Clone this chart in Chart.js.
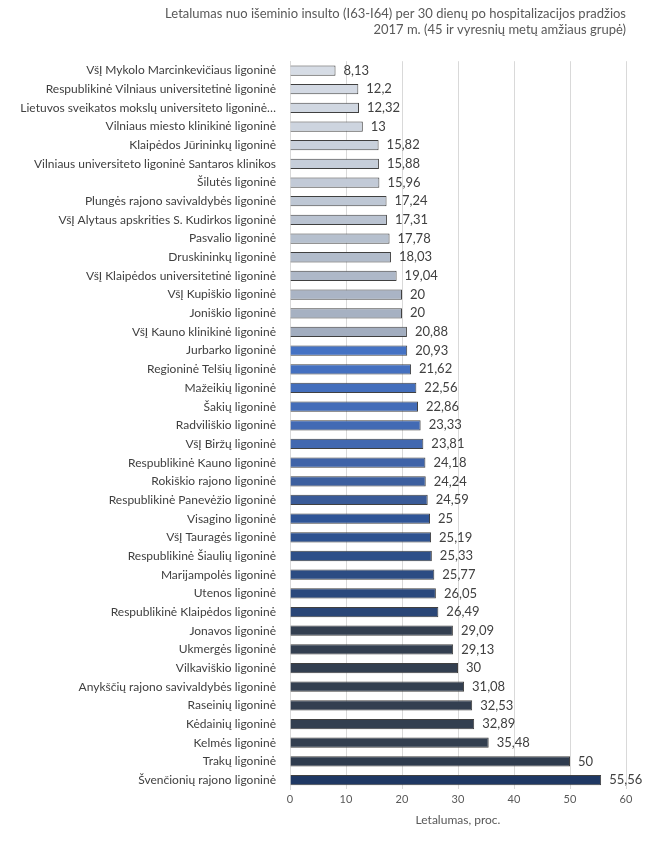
<!DOCTYPE html>
<html><head><meta charset="utf-8">
<script src="https://cdn.jsdelivr.net/npm/chart.js@4/dist/chart.umd.min.js"></script>
<style>body{margin:0;background:#fff}#wrap{width:646px;height:845px;position:relative}</style>
</head><body><div id="wrap"><canvas id="c"></canvas></div>
<script>
const hospitals = ['VšĮ Mykolo Marcinkevičiaus ligoninė','Respublikinė Vilniaus universitetinė ligoninė','Lietuvos sveikatos mokslų universiteto ligoninė…','Vilniaus miesto klinikinė ligoninė','Klaipėdos Jūrininkų ligoninė','Vilniaus universiteto ligoninė Santaros klinikos','Šilutės ligoninė','Plungės rajono savivaldybės ligoninė','VšĮ Alytaus apskrities S. Kudirkos ligoninė','Pasvalio ligoninė','Druskininkų ligoninė','VšĮ Klaipėdos universitetinė ligoninė','VšĮ Kupiškio ligoninė','Joniškio ligoninė','VšĮ Kauno klinikinė ligoninė','Jurbarko ligoninė','Regioninė Telšių ligoninė','Mažeikių ligoninė','Šakių ligoninė','Radviliškio ligoninė','VšĮ Biržų ligoninė','Respublikinė Kauno ligoninė','Rokiškio rajono ligoninė','Respublikinė Panevėžio ligoninė','Visagino ligoninė','VšĮ Tauragės ligoninė','Respublikinė Šiaulių ligoninė','Marijampolės ligoninė','Utenos ligoninė','Respublikinė Klaipėdos ligoninė','Jonavos ligoninė','Ukmergės ligoninė','Vilkaviškio ligoninė','Anykščių rajono savivaldybės ligoninė','Raseinių ligoninė','Kėdainių ligoninė','Kelmės ligoninė','Trakų ligoninė','Švenčionių rajono ligoninė'];
const lethality = [8.13,12.2,12.32,13,15.82,15.88,15.96,17.24,17.31,17.78,18.03,19.04,20,20,20.88,20.93,21.62,22.56,22.86,23.33,23.81,24.18,24.24,24.59,25,25.19,25.33,25.77,26.05,26.49,29.09,29.13,30,31.08,32.53,32.89,35.48,50,55.56];
const barColors = ['#d6dce5','#d3d9e3','#d0d7e1','#cdd4df','#c9d1dc','#c6ceda','#c2cad7','#bec7d4','#bac3d1','#b6c0ce','#b2bccb','#aeb8c8','#aab4c5','#a6b1c2','#a2adbf','#4472c4','#4470c0','#436ebc','#436cb8','#426ab4','#4268b0','#3f63a8','#3c5f9f','#3a5b98','#2f5597','#2e5290','#2d4f89','#2c4c83','#2b497d','#2a4677','#333f50','#333f50','#333f50','#333f50','#333f50','#333f50','#333f50','#2e3b4e','#1f3864'];

const valueLabels = {
  id: 'valueLabels',
  afterDatasetsDraw(chart) {
    const ctx = chart.ctx;
    ctx.save();
    ctx.font = '13px Lato';
    ctx.fillStyle = '#404040';
    ctx.textBaseline = 'middle';
    chart.getDatasetMeta(0).data.forEach((bar, i) => {
      ctx.fillText(String(lethality[i]).replace('.', ','), bar.x + 8, bar.y);
    });
    ctx.restore();
  }
};

new Chart(document.getElementById('c'), {
  type: 'bar',
  data: {
    labels: hospitals,
    datasets: [{
      data: lethality,
      backgroundColor: barColors,
      borderColor: '#404040',
      borderWidth: 1,
      barPercentage: 0.55,
      categoryPercentage: 1
    }]
  },
  options: {
    indexAxis: 'y',
    responsive: true,
    maintainAspectRatio: false,
    animation: false,
    layout: { padding: { left: 4, right: 20, top: 6, bottom: 14 } },
    plugins: {
      legend: { display: false },
      tooltip: { enabled: false },
      title: {
        display: true,
        align: 'end',
        text: ['Letalumas nuo išeminio insulto (I63-I64) per 30 dienų po hospitalizacijos pradžios', '2017 m. (45 ir vyresnių metų amžiaus grupė)'],
        color: '#595959',
        font: { family: 'Lato', size: 13, weight: 'normal' },
        padding: { top: 0, bottom: 24 }
      }
    },
    scales: {
      x: {
        min: 0, max: 60,
        ticks: { stepSize: 10, color: '#595959', font: { family: 'Lato', size: 11 } },
        grid: { color: '#d9d9d9', drawTicks: false },
        border: { display: false },
        title: { display: true, text: 'Letalumas, proc.', color: '#595959', font: { family: 'Lato', size: 12 } }
      },
      y: {
        afterDataLimits(s) { s.max = s.max + 1; },
        ticks: {
          color: '#404040', font: { family: 'Lato', size: 12 }, autoSkip: false, padding: 6,
          callback: (v) => hospitals[v] ?? ''
        },
        grid: { display: false },
        border: { color: '#d9d9d9' },
        afterFit(s) { s.width = 286; }
      }
    }
  },
  plugins: [valueLabels]
});
</script></body></html>
